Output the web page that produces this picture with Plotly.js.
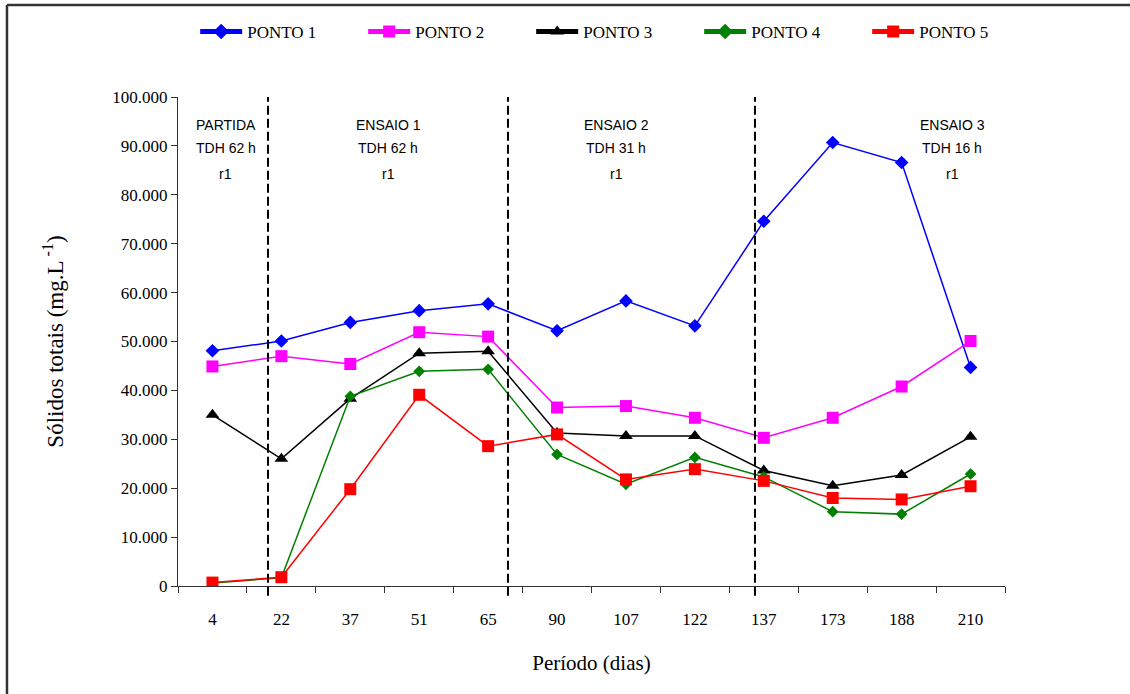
<!DOCTYPE html>
<html>
<head>
<meta charset="utf-8">
<script src="https://cdn.plot.ly/plotly-3.0.1.min.js"></script>
<style>
  html, body { margin: 0; padding: 0; background: #fff; }
  #chart { width: 1130px; height: 694px; }
</style>
</head>
<body>
<div id="chart"></div>
<script>
// Categories (days)
const dias = ['4', '22', '37', '51', '65', '90', '107', '122', '137', '173', '188', '210'];

// Series values (mg/L)
const ponto1 = [48100, 50100, 53900, 56300, 57700, 52200, 58300, 53200, 74600, 90700, 86600, 44700];
const ponto2 = [44900, 47000, 45400, 51900, 51000, 36500, 36800, 34400, 30300, 34400, 40800, 50100];
const ponto3 = [35000, 26000, 38300, 47600, 48000, 31300, 30700, 30700, 23600, 20500, 22700, 30500];
const ponto4 = [600, 1700, 38800, 43900, 44300, 26900, 20800, 26300, 22300, 15200, 14700, 22900];
const ponto5 = [700, 1800, 19800, 39100, 28600, 31000, 21800, 23900, 21500, 18000, 17700, 20400];

const seriesNames = ['PONTO 1', 'PONTO 2', 'PONTO 3', 'PONTO 4', 'PONTO 5'];

// Phase separators (category-index positions) and phase labels
const phaseBreaks = [0.806, 4.288, 7.872];
const phaseLabels = [
  ['PARTIDA', 'TDH 62 h', 'r1'],
  ['ENSAIO 1', 'TDH 62 h', 'r1'],
  ['ENSAIO 2', 'TDH 31 h', 'r1'],
  ['ENSAIO 3', 'TDH 16 h', 'r1']
];
const phaseLabelX = [0.058, 0.254, 0.530, 0.936];
const phaseLineY = [0.9427, 0.8957, 0.8425];

const styles = [
  {color: '#0000FF', symbol: 'diamond', size: 10.5},
  {color: '#FF00FF', symbol: 'square', size: 12},
  {color: '#000000', symbol: 'triangle-up', size: 12},
  {color: '#008000', symbol: 'diamond', size: 9},
  {color: '#FF0000', symbol: 'square', size: 12}
];
const allSeries = [ponto1, ponto2, ponto3, ponto4, ponto5];

const traces = allSeries.map((vals, i) => ({
  type: 'scatter',
  mode: 'lines+markers',
  name: seriesNames[i],
  x: dias,
  y: vals,
  line: {color: styles[i].color, width: 1.5},
  marker: {color: styles[i].color, symbol: styles[i].symbol, size: styles[i].size}
}));

const shapes = phaseBreaks.map(xv => ({
  type: 'line', xref: 'x', yref: 'paper',
  x0: xv, x1: xv, y0: -0.02, y1: 1,
  line: {color: '#000', width: 2, dash: '9px,4px'}
}));
// outer frame (top and left edges)
shapes.push({type: 'line', xref: 'paper', yref: 'paper', x0: -0.2068, x1: 1.16, y0: 1.188, y1: 1.188, line: {color: '#333', width: 2.5}});
shapes.push({type: 'line', xref: 'paper', yref: 'paper', x0: -0.2068, x1: -0.2068, y0: 1.188, y1: -0.23, line: {color: '#333', width: 2.5}});

const annotations = [];
phaseLabels.forEach((lines, i) => {
  lines.forEach((t, j) => {
    annotations.push({
      xref: 'paper', yref: 'paper', x: phaseLabelX[i], y: phaseLineY[j],
      text: t, showarrow: false, xanchor: 'center', yanchor: 'middle',
      font: {family: 'Liberation Sans, Arial, sans-serif', size: 14, color: '#000'}
    });
  });
});

const layout = {
  width: 1130, height: 694,
  margin: {l: 178, r: 125, t: 97, b: 108, autoexpand: false},
  paper_bgcolor: '#fff', plot_bgcolor: '#fff',
  separators: ',.',
  showlegend: true,
  legend: {
    orientation: 'h', x: -0.001, y: 1.133, xanchor: 'left', yanchor: 'middle',
    entrywidth: 93, entrywidthmode: 'pixels', indentation: 18, itemwidth: 42,
    font: {family: 'Liberation Serif, Times New Roman, serif', size: 17, color: '#000'},
    bgcolor: 'rgba(0,0,0,0)', itemsizing: 'constant'
  },
  xaxis: {
    type: 'category', range: [-0.5, 11.5],
    showline: true, linecolor: '#333', linewidth: 1,
    showgrid: false, zeroline: false,
    ticks: 'outside', tickson: 'boundaries', ticklen: 6, tickcolor: '#333',
    ticklabelstandoff: 18,
    tickfont: {family: 'Liberation Serif, Times New Roman, serif', size: 17, color: '#000'},
    title: {text: 'Período (dias)', standoff: 26,
            font: {family: 'Liberation Serif, Times New Roman, serif', size: 21, color: '#000'}},
    fixedrange: true
  },
  yaxis: {
    range: [0, 100000], dtick: 10000, tick0: 0, tickformat: ',.0f',
    showline: true, linecolor: '#333', linewidth: 1,
    showgrid: false, zeroline: false,
    ticks: 'outside', ticklen: 6, tickcolor: '#333',
    tickfont: {family: 'Liberation Serif, Times New Roman, serif', size: 17, color: '#000'},
    title: {text: 'Sólidos totais (mg.L<sup> -1</sup>)', standoff: 42,
            font: {family: 'Liberation Serif, Times New Roman, serif', size: 23, color: '#000'}},
    fixedrange: true
  },
  shapes: shapes,
  annotations: annotations
};

Plotly.newPlot('chart', traces, layout, {displayModeBar: false, staticPlot: true});
</script>
</body>
</html>
